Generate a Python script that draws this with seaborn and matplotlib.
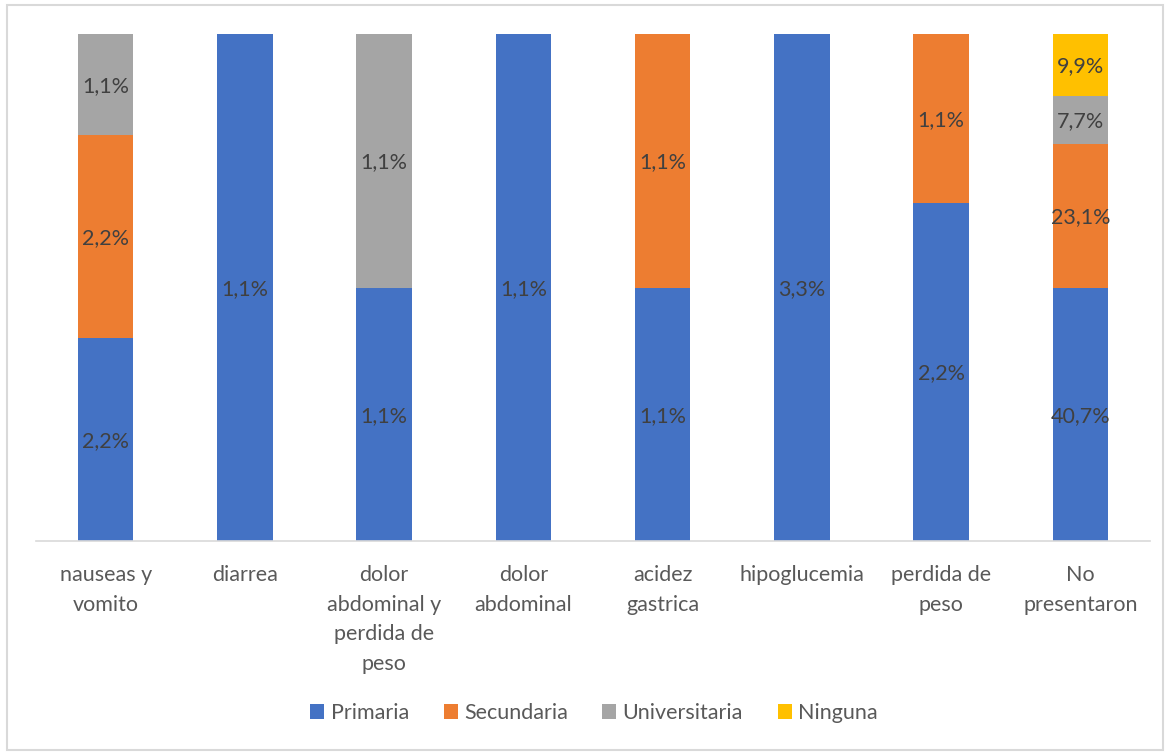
import matplotlib
matplotlib.use("Agg")
import matplotlib.pyplot as plt
from matplotlib.patches import Rectangle, Patch
import numpy as np
import pandas as pd
import seaborn as sns

# Síntomas por nivel educativo (porcentaje del total de pacientes)
categorias = ["nauseas y\nvomito", "diarrea", "dolor\nabdominal y\nperdida de\npeso",
              "dolor\nabdominal", "acidez\ngastrica", "hipoglucemia",
              "perdida de\npeso", "No\npresentaron"]
primaria = [2.2, 1.1, 1.1, 1.1, 1.1, 3.3, 2.2, 40.7]
secundaria = [2.2, 0.0, 0.0, 0.0, 1.1, 0.0, 1.1, 23.1]
universitaria = [1.1, 0.0, 1.1, 0.0, 0.0, 0.0, 0.0, 7.7]
ninguna = [0.0, 0.0, 0.0, 0.0, 0.0, 0.0, 0.0, 9.9]

series = ["Primaria", "Secundaria", "Universitaria", "Ninguna"]
colores = ["#4472C4", "#ED7D31", "#A5A5A5", "#FFC000"]

valores = np.array([primaria, secundaria, universitaria, ninguna])
fracciones = valores / valores.sum(axis=0)
acumulado = np.cumsum(fracciones, axis=0)

sns.set_theme(style="white")
plt.rcParams["font.family"] = ["Lato", "DejaVu Sans"]

fig = plt.figure(figsize=(11.67, 7.53), dpi=100)
ax = fig.add_axes([36 / 1167, 1 - 541 / 753, (1150 - 36) / 1167, (541 - 34) / 753])

# 100% stacked columns: draw cumulative totals from top series down
for i in range(len(series) - 1, -1, -1):
    df = pd.DataFrame({"cat": categorias, "val": acumulado[i]})
    sns.barplot(data=df, x="cat", y="val", color=colores[i], width=0.40,
                saturation=1, ax=ax, order=categorias, edgecolor="none")

# Segment value labels
for i in range(len(series)):
    for j in range(len(categorias)):
        v = valores[i, j]
        if v > 0:
            base = acumulado[i, j] - fracciones[i, j]
            ax.text(j, base + fracciones[i, j] / 2 - 0.003, f"{v:.1f}%".replace(".", ","),
                    ha="center", va="center", fontsize=15.5, color="#404040")

ax.set_ylim(0, 1)
ax.set_xlim(-0.5, len(categorias) - 0.5)
ax.set_xlabel("")
ax.set_ylabel("")
ax.set_yticks([])
for s in ["top", "left", "right"]:
    ax.spines[s].set_visible(False)
ax.spines["bottom"].set_color("#d9d9d9")
ax.spines["bottom"].set_linewidth(1.2)
ax.tick_params(axis="x", length=0, pad=17, labelsize=15.5, labelcolor="#595959")
for lbl in ax.get_xticklabels():
    lbl.set_linespacing(1.62)
    lbl.set_va("top")

handles = [Patch(facecolor=c, edgecolor="none", label=s) for s, c in zip(series, colores)]
fig.legend(handles=handles, loc="center", bbox_to_anchor=(0.509, 1 - 713 / 753), ncol=4,
           frameon=False, fontsize=15.5, labelcolor="#595959", handlelength=0.65,
           handleheight=0.65, handletextpad=0.3, columnspacing=1.6)

fig.patches.append(Rectangle((7 / 1167, 3 / 753), (1163 - 7) / 1167, (748 - 3) / 753,
                             transform=fig.transFigure, fill=False,
                             edgecolor="#d9d9d9", linewidth=1.5))

fig.savefig("out.png", dpi=100)
